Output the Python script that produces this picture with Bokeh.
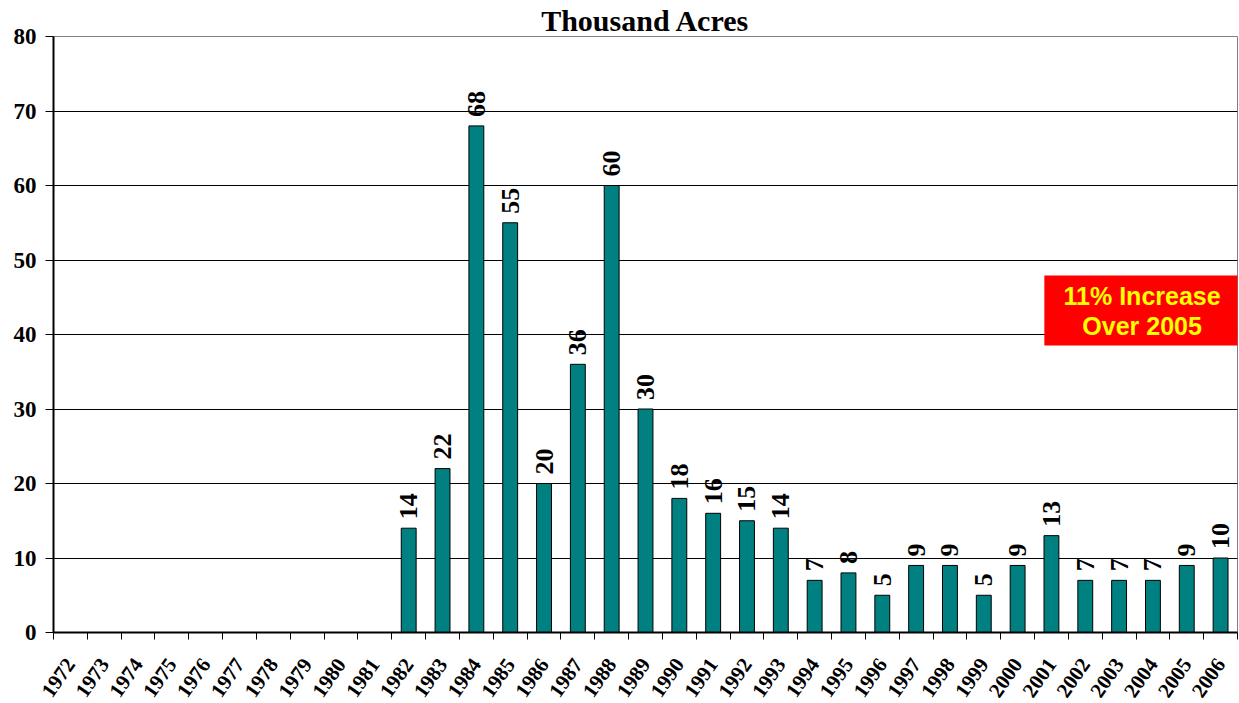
import math
from bokeh.plotting import figure
from bokeh.models import (ColumnDataSource, FixedTicker, Range1d, BoxAnnotation, Label)
from bokeh.core.properties import value
from bokeh.embed import file_html
from bokeh.resources import INLINE

years = list(range(1972, 2007))
acres = [0, 0, 0, 0, 0, 0, 0, 0, 0, 0,
         14, 22, 68, 55, 20, 36, 60, 30, 18, 16,
         15, 14, 7, 8, 5, 9, 9, 5, 9, 13,
         7, 7, 7, 9, 10]
y_ticks = [0, 10, 20, 30, 40, 50, 60, 70, 80]
title_text = "Thousand Acres"
note_text = "11% Increase\nOver 2005"

SERIF = "Liberation Serif"
SANS = "Liberation Sans"

n = len(years)
xc = [i + 0.5 for i in range(n)]
bx = [xc[i] for i in range(n) if acres[i] > 0]
by = [acres[i] for i in range(n) if acres[i] > 0]
src = ColumnDataSource(dict(x=bx, top=by, label=[str(v) for v in by]))

p = figure(frame_width=1184, frame_height=596, output_backend="svg", toolbar_location=None,
           x_range=Range1d(0, n), y_range=Range1d(0, 80),
           min_border_left=53, min_border_right=2, min_border_top=36, min_border_bottom=0)

p.title.text = title_text
p.title.align = "center"
p.title.text_font = SERIF
p.title.text_font_size = "30px"
p.title.text_font_style = "bold"
p.title.text_color = "black"
p.title.standoff = 0
p.title.offset = 0

p.background_fill_color = "white"
p.border_fill_color = "white"
p.outline_line_color = "#808080"
p.outline_line_width = 1

p.vbar(x="x", top="top", bottom=0, width=0.44, source=src,
       fill_color="#008080", line_color="black", line_width=1)

p.text(x="x", y="top", text="label", source=src, angle=math.pi / 2,
       text_align="left", text_baseline="middle", y_offset=-9,
       text_font=value(SERIF), text_font_size="26px", text_font_style="bold",
       text_color="black")

# axes
xa = p.xaxis[0]
xa.ticker = FixedTicker(ticks=xc, minor_ticks=list(range(n + 1)))
xa.major_label_overrides = {xc[i]: str(years[i]) for i in range(n)}
xa.major_label_orientation = math.radians(55)
xa.major_tick_line_color = None
xa.major_tick_out = 0
xa.major_tick_in = 0
xa.minor_tick_line_color = "black"
xa.minor_tick_out = 7
xa.minor_tick_in = 0
xa.major_label_standoff = 21
xa.axis_line_color = "black"
xa.axis_line_width = 2
xa.major_label_text_font = SERIF
xa.major_label_text_font_size = "21px"
xa.major_label_text_font_style = "bold"
xa.major_label_text_color = "black"

ya = p.yaxis[0]
ya.ticker = FixedTicker(ticks=y_ticks)
ya.minor_tick_line_color = None
ya.major_tick_out = 8
ya.major_tick_in = 0
ya.major_tick_line_color = "black"
ya.major_label_standoff = 9
ya.axis_line_color = "black"
ya.axis_line_width = 2
ya.major_label_text_font = SERIF
ya.major_label_text_font_size = "23px"
ya.major_label_text_font_style = "bold"
ya.major_label_text_color = "black"

p.xgrid.grid_line_color = None
p.ygrid.grid_line_color = "black"
p.ygrid.grid_line_width = 1

box = BoxAnnotation(left=29.29, right=35.1, bottom=38.52, top=47.92,
                    fill_color="#FF0000", fill_alpha=1.0, line_color=None)
p.add_layout(box)
note = Label(x=32.18, y=43.15, text=note_text, text_align="center", text_baseline="middle",
             text_font=SANS, text_font_size="25px", text_font_style="bold",
             text_color="#FFFF00", text_line_height=1.08)
p.add_layout(note)

open("out.html", "w").write(file_html(p, INLINE))
